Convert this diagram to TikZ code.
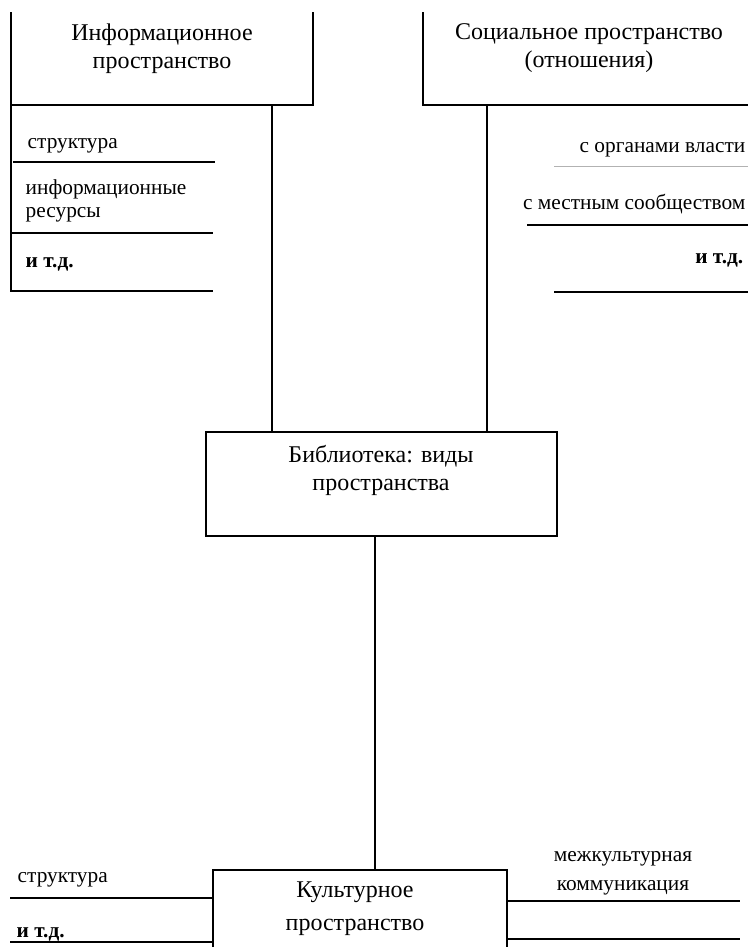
\documentclass[tikz,border=0pt]{standalone}
\usepackage{fontspec}
\setmainfont{Liberation Serif}
\begin{document}
\begin{tikzpicture}[x=0.75pt,y=-0.75pt, line width=1.1pt,
  box/.style={draw, inner sep=0pt, outer sep=0pt, anchor=north west},
  openbox/.style={inner sep=0pt, outer sep=0pt, anchor=north west},
  title/.style={font=\fontsize{18}{21}\selectfont, align=center, anchor=base, inner sep=0pt},
  item/.style={font=\fontsize{16}{17.25}\selectfont, inner sep=0pt},
  etc/.style={item, font=\fontsize{16}{17.25}\selectfont\bfseries}]
\useasboundingbox (0,0) rectangle (748,947);
\clip (0,0) rectangle (748,947);

% boxes (top boxes open at the top)
\node[openbox, minimum width=226.5pt, minimum height=69.75pt] (info) at (11,12) {};
\node[openbox, minimum width=270pt, minimum height=69.75pt] (soc) at (423,12) {};
\draw (info.north west) -- (info.south west) -- (info.south east) -- (info.north east);
\draw (soc.north west) -- (soc.south west) -- (soc.south east) -- (soc.north east);
\node[box, minimum width=263.25pt, minimum height=78pt] (lib) at (206,432) {};
\node[box, minimum width=220.5pt, minimum height=82.5pt] (cult) at (213,870) {};

% titles (anchor base = baseline of the last line)
\node[title] (infot) at (162,68) {Информационное\\пространство};
\node[title] (soct) at (589,67) {Социальное пространство\\(отношения)};
\node[title] (libt) at (381,490) {Библиотека: виды\\пространства};
\node[title, font=\fontsize{18}{24.75}\selectfont] (cultt) at (355,930) {Культурное\\пространство};

% connectors
\coordinate (cx1) at (272,0);
\coordinate (cx2) at (487,0);
\coordinate (cx3) at (375,0);
\draw (info.south -| cx1) -- (lib.north -| cx1);
\draw (soc.south -| cx2) -- (lib.north -| cx2);
\draw (lib.south -| cx3) -- (cult.north -| cx3);

% left list (information space)
\coordinate (lbot) at (11,291);
\draw (info.south west) -- (lbot) -- (213,291);
\draw (13,162) -- (215,162);
\draw[line width=1.5pt] (11,233) -- (213,233);
\node[item, anchor=base west] (l1) at (27,148) {структура};
\node[item, anchor=base west, align=left] (l2) at (25,217) {информационные\\ресурсы};
\node[etc, anchor=base west] (l3) at (25,267) {и т.д.};

% right list (social space)
\draw[gray!60, line width=0.6pt] (554,166) -- (748,166);
\draw (527,225) -- (748,225);
\draw (554,292) -- (748,292);
\node[item, anchor=base east] (r1) at (746,152) {с органами власти};
\node[item, anchor=base east] (r2) at (746,209) {с местным сообществом};
\node[etc, anchor=base east] (r3) at (744,263) {и т.д.};

% bottom lists (cultural space)
\draw (10,898) -- (cult.west |- 0,898);
\draw (10,942) -- (cult.west |- 0,942);
\draw (cult.east |- 0,901) -- (740,901);
\draw (cult.east |- 0,939) -- (740,939);
\node[item, anchor=base west] (b1) at (17,882) {структура};
\node[etc, anchor=base west] (b2) at (16,937) {и т.д.};
\node[item, anchor=base, align=center, font=\fontsize{16}{21.75}\selectfont] (b3) at (623,890) {межкультурная\\коммуникация};
\end{tikzpicture}
\end{document}
